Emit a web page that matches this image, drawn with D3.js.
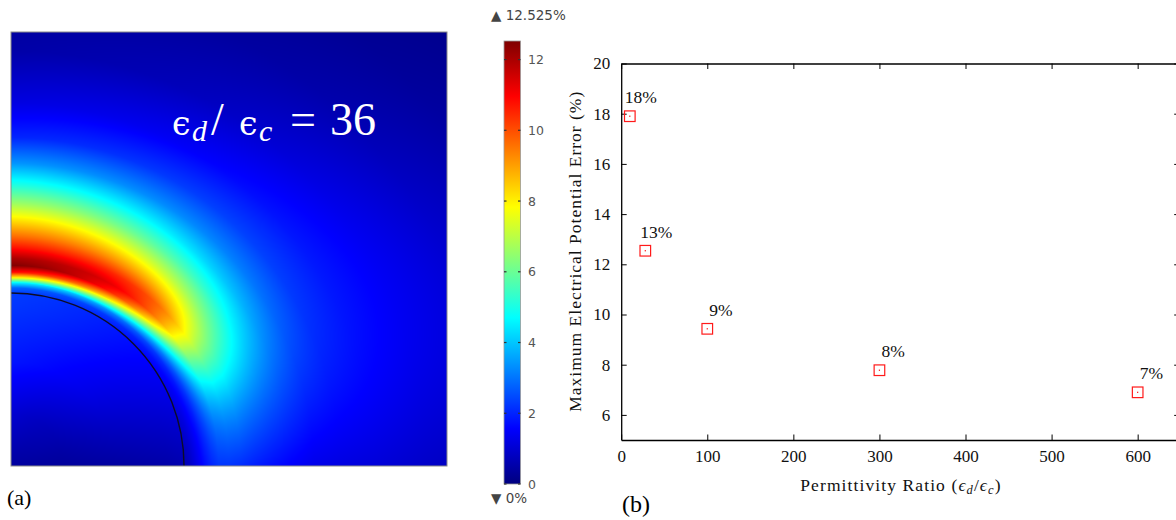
<!DOCTYPE html>
<html>
<head>
<meta charset="utf-8">
<script src="https://cdn.jsdelivr.net/npm/d3@7"></script>
<style>
body { margin: 0; background: #fff; }
svg { display: block; }
</style>
</head>
<body>
<svg id="fig" width="1176" height="520"></svg>
<script>
// ---- panel (b) data ----
var ratios = [10, 28, 100, 300, 600];
var maxErrors = [17.9, 12.54, 9.43, 7.78, 6.9];
var errorLabels = ["18%", "13%", "9%", "8%", "7%"];
var xTicks = [0, 100, 200, 300, 400, 500, 600];
var yTicks = [6, 8, 10, 12, 14, 16, 18, 20];

// ---- panel (a) data: error field (%) on a polar grid around the particle ----
// radius in particle radii, angle in degrees from the bottom edge
var fieldRadii = [0, 0.3, 0.6, 0.9, 1.0, 1.03, 1.06, 1.09, 1.12, 1.16, 1.2, 1.26, 1.33, 1.42, 1.52, 1.63, 1.75, 1.9, 2.1, 2.4, 2.8, 3.2, 3.6];
var fieldAngles = [0, 15, 30, 45, 60, 75, 90];
var err0  = [0.4, 0.35, 0.4, 0.5, 0.6, 0.8, 1.1, 1.4, 1.7, 2.0, 2.2, 2.2, 2.1, 1.9, 1.7, 1.5, 1.3, 1.2, 1.1, 0.9, 0.7, 0.55, 0.45];
var err15 = [0.4, 0.45, 0.7, 0.9, 1.0, 1.2, 1.5, 1.8, 2.2, 2.7, 3.1, 3.3, 3.3, 3.0, 2.7, 2.4, 2.1, 1.9, 1.7, 1.4, 1.1, 0.8, 0.5];
var err30 = [0.4, 0.6, 1.0, 1.3, 1.4, 1.6, 1.9, 2.5, 3.3, 4.5, 5.6, 6.0, 5.8, 5.2, 4.4, 3.6, 2.9, 2.3, 1.9, 1.5, 1.0, 0.6, 0.3];
var err45 = [0.4, 0.7, 1.3, 1.6, 1.7, 1.9, 2.5, 3.8, 5.6, 8.0, 9.6, 9.8, 8.6, 7.0, 5.5, 4.2, 3.2, 2.4, 1.8, 1.2, 0.6, 0.3, 0.15];
var err60 = [0.4, 0.8, 1.5, 1.9, 2.0, 2.3, 3.4, 5.8, 8.4, 10.8, 11.4, 10.6, 9.2, 7.6, 6.0, 4.6, 3.3, 2.3, 1.5, 0.8, 0.4, 0.2, 0.1];
var err75 = [0.4, 0.9, 1.7, 2.1, 2.2, 2.6, 4.2, 7.4, 10.2, 12.1, 11.8, 10.6, 9.4, 8.0, 6.4, 4.8, 3.3, 2.1, 1.3, 0.6, 0.3, 0.15, 0.1];
var err90 = [0.4, 1.0, 1.8, 2.2, 2.3, 2.8, 4.6, 8.0, 10.8, 12.5, 12.0, 10.8, 9.6, 8.2, 6.6, 5.0, 3.4, 2.0, 1.2, 0.5, 0.25, 0.15, 0.1];
var fieldRows = [err0, err15, err30, err45, err60, err75, err90];
var colorbarTicks = [0, 2, 4, 6, 8, 10, 12];
var errMax = 12.525;

var svg = d3.select("#fig");

// jet-like colour map
var jetStops = [0, 0.125, 0.375, 0.625, 0.875, 1];
var jetColors = ["#00007f", "#0000ff", "#00ffff", "#ffff00", "#ff0000", "#7f0000"];
var jet = d3.scaleLinear()
	.domain(jetStops.map(function(t) { return t * errMax; }))
	.range(jetColors)
	.clamp(true);

// ================= panel (a) =================
var hx = d3.scaleLinear().domain([0, 2.52]).range([11, 447]);
var hy = d3.scaleLinear().domain([0, 2.51]).range([466, 32]);

var valueOnRow = function(row, r) {
	var i = Math.max(0, Math.min(d3.bisectRight(fieldRadii, r) - 1, fieldRadii.length - 2));
	var t = (r - fieldRadii[i]) / (fieldRadii[i + 1] - fieldRadii[i]);
	t = Math.max(0, Math.min(1, t));
	return row[i] + (row[i + 1] - row[i]) * t;
};

var fieldAt = function(r, a) {
	var vals = fieldRows.map(function(row) { return valueOnRow(row, r); });
	return d3.interpolateBasis(vals)(a / 90);
};

var w = Math.round(hx.range()[1] - hx.range()[0]);
var h = Math.round(hy.range()[0] - hy.range()[1]);
var canvas = document.createElement("canvas");
canvas.width = w;
canvas.height = h;
var ctx = canvas.getContext("2d");
var img = ctx.createImageData(w, h);
for (var py = 0; py < h; py++) {
	for (var px = 0; px < w; px++) {
		var ux = hx.invert(hx.range()[0] + px + 0.5);
		var uy = hy.invert(hy.range()[1] + py + 0.5);
		var r = Math.sqrt(ux * ux + uy * uy);
		var a = Math.atan2(uy, ux) * 180 / Math.PI;
		var c = d3.rgb(jet(fieldAt(r, a)));
		var k = (py * w + px) * 4;
		img.data[k] = c.r;
		img.data[k + 1] = c.g;
		img.data[k + 2] = c.b;
		img.data[k + 3] = 255;
	}
}
ctx.putImageData(img, 0, 0);

svg.append("image")
	.attr("x", hx.range()[0]).attr("y", hy.range()[1])
	.attr("width", w).attr("height", h)
	.attr("href", canvas.toDataURL());

svg.append("clipPath").attr("id", "frameClip")
	.append("rect")
	.attr("x", hx.range()[0]).attr("y", hy.range()[1])
	.attr("width", w).attr("height", h);

var R0 = hx(1) - hx(0);
var arc = d3.path();
arc.arc(hx(0), hy(0), R0, -Math.PI / 2, 0);
svg.append("path")
	.attr("d", arc.toString())
	.attr("fill", "none")
	.attr("stroke", "#0d0d26")
	.attr("stroke-width", 1.4)
	.attr("clip-path", "url(#frameClip)");

svg.append("rect")
	.attr("x", hx.range()[0]).attr("y", hy.range()[1])
	.attr("width", w).attr("height", h)
	.attr("fill", "none").attr("stroke", "#8a8a8a").attr("stroke-width", 1);

var serifA = "'Liberation Serif', serif";
var ratioText = svg.append("text")
	.attr("y", 135)
	.attr("fill", "#fff")
	.style("font-family", serifA)
	.style("font-size", "46px");
ratioText.append("tspan").attr("x", 172).style("font-family", "'DejaVu Serif', serif").style("font-size", "33px").text("\u03f5");
ratioText.append("tspan").attr("x", 192).attr("dy", 6).style("font-family", serifA).style("font-style", "italic").style("font-size", "30px").text("d");
ratioText.append("tspan").attr("x", 211).attr("dy", -6).text("/");
ratioText.append("tspan").attr("x", 239).style("font-family", "'DejaVu Serif', serif").style("font-size", "33px").text("\u03f5");
ratioText.append("tspan").attr("x", 259).attr("dy", 6).style("font-family", serifA).style("font-style", "italic").style("font-size", "30px").text("c");
ratioText.append("tspan").attr("x", 290).attr("dy", -6).text("=");
ratioText.append("tspan").attr("x", 330).text("36");

// colour bar
var cbY = d3.scaleLinear().domain([0, errMax]).range([484, 41]);
var grad = svg.append("defs").append("linearGradient")
	.attr("id", "jetGrad")
	.attr("x1", 0).attr("y1", 1).attr("x2", 0).attr("y2", 0);
grad.selectAll("stop")
	.data(jetStops)
	.enter().append("stop")
	.attr("offset", function(d) { return d; })
	.attr("stop-color", function(d, i) { return jetColors[i]; });

svg.append("rect")
	.attr("x", 504).attr("y", cbY(errMax))
	.attr("width", 16.5).attr("height", cbY(0) - cbY(errMax))
	.attr("fill", "url(#jetGrad)")
	.attr("stroke", "#9a9a9a").attr("stroke-width", 0.8);

var cbTick = svg.append("g").selectAll("g")
	.data(colorbarTicks)
	.enter().append("g")
	.attr("transform", function(d) { return "translate(0," + cbY(d) + ")"; });
cbTick.append("line").attr("x1", 504).attr("x2", 506.5).attr("stroke", "#333").attr("stroke-width", 1.2);
cbTick.append("line").attr("x1", 518).attr("x2", 520.5).attr("stroke", "#333").attr("stroke-width", 1.2);
cbTick.append("text")
	.attr("x", 528).attr("dy", "0.36em")
	.attr("fill", "#555")
	.style("font-family", "'DejaVu Sans', sans-serif")
	.style("font-size", "12.5px")
	.text(function(d) { return d; });

svg.append("text").attr("x", 491).attr("y", 20)
	.attr("fill", "#444")
	.style("font-family", "'DejaVu Sans', sans-serif").style("font-size", "13.5px")
	.text("\u25b2 " + errMax + "%");
svg.append("text").attr("x", 491).attr("y", 503)
	.attr("fill", "#444")
	.style("font-family", "'DejaVu Sans', sans-serif").style("font-size", "13.5px")
	.text("\u25bc 0%");

svg.append("text").attr("x", 7).attr("y", 505)
	.style("font-family", serifA).style("font-size", "22px")
	.text("(a)");

// ================= panel (b) =================
var x = d3.scaleLinear().domain([0, 650]).range([621.2, 1180.7]);
var y = d3.scaleLinear().domain([5, 20]).range([440, 63.5]);
var serif = "'Liberation Serif', 'Times New Roman', serif";

var styleAxis = function(g) {
	g.select(".domain").attr("stroke", "#000").attr("stroke-width", 1.3);
	g.selectAll(".tick line").attr("stroke", "#000").attr("stroke-width", 1);
	g.selectAll("text").attr("fill", "#111").style("font-family", serif).style("font-size", "17px");
};

svg.append("g").attr("transform", "translate(0," + y(5) + ")")
	.call(d3.axisBottom(x).tickValues(xTicks).tickSizeInner(-5.5).tickSizeOuter(0).tickPadding(10))
	.call(styleAxis);
svg.append("g").attr("transform", "translate(0," + y(20) + ")")
	.call(d3.axisTop(x).tickValues(xTicks).tickSizeInner(-5.5).tickSizeOuter(0).tickFormat(""))
	.call(styleAxis);
svg.append("g").attr("transform", "translate(" + x(0) + ",0)")
	.call(d3.axisLeft(y).tickValues(yTicks).tickSizeInner(-5.5).tickSizeOuter(0).tickPadding(11))
	.call(styleAxis);
svg.append("g").attr("transform", "translate(" + x(650) + ",0)")
	.call(d3.axisRight(y).tickValues(yTicks).tickSizeInner(-6.5).tickSizeOuter(0).tickFormat(""))
	.call(styleAxis);

var pts = svg.append("g").selectAll("g")
	.data(ratios)
	.enter().append("g")
	.attr("transform", function(d, i) { return "translate(" + x(d) + "," + y(maxErrors[i]) + ")"; });
pts.append("rect")
	.attr("x", -5.3).attr("y", -5.3).attr("width", 10.6).attr("height", 10.6)
	.attr("fill", "none").attr("stroke", "#ff1a1a").attr("stroke-width", 1.2);
pts.append("rect")
	.attr("x", -0.6).attr("y", -0.6).attr("width", 1.2).attr("height", 1.2)
	.attr("fill", "#ff0000");
pts.append("text")
	.attr("x", function(d, i) { return errorLabels[i].length > 2 ? -5 : 2; })
	.attr("y", -13)
	.attr("fill", "#111")
	.style("font-family", serif).style("font-size", "17.5px")
	.text(function(d, i) { return errorLabels[i]; });

svg.append("text")
	.attr("transform", "translate(581," + y(12.5) + ") rotate(-90)")
	.attr("text-anchor", "middle")
	.attr("fill", "#111")
	.attr("textLength", 320).attr("lengthAdjust", "spacing")
	.style("font-family", serif).style("font-size", "17.5px")
	.text("Maximum Electrical Potential Error (%)");

var xLabel = svg.append("text")
	.attr("x", x(325)).attr("y", 491)
	.attr("text-anchor", "middle")
	.attr("fill", "#111")
	.style("font-family", serif).style("font-size", "17.5px")
	.style("letter-spacing", "1.1px");
xLabel.append("tspan").text("Permittivity Ratio (");
xLabel.append("tspan").style("font-style", "italic").text("\u03f5");
xLabel.append("tspan").attr("dy", 3).style("font-style", "italic").style("font-size", "12.5px").text("d");
xLabel.append("tspan").attr("dy", -3).text("/");
xLabel.append("tspan").style("font-style", "italic").text("\u03f5");
xLabel.append("tspan").attr("dy", 3).style("font-style", "italic").style("font-size", "12.5px").text("c");
xLabel.append("tspan").attr("dy", -3).text(")");

svg.append("text").attr("x", 622).attr("y", 512)
	.style("font-family", serif).style("font-size", "24px")
	.text("(b)");
</script>
</body>
</html>
